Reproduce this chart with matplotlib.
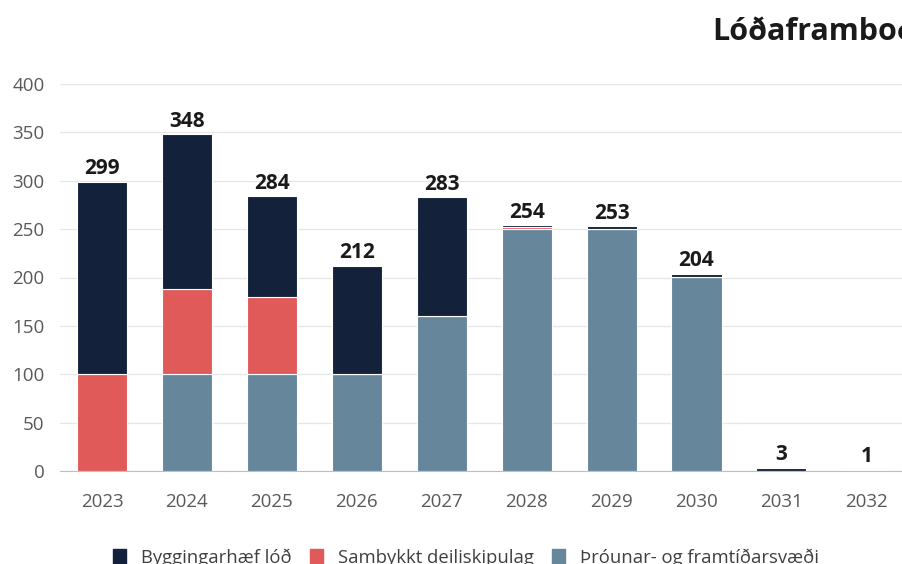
import matplotlib
matplotlib.use("Agg")
import matplotlib.pyplot as plt
from matplotlib.patches import Patch

years = ["2023", "2024", "2025", "2026", "2027", "2028", "2029", "2030", "2031", "2032"]
throun = [0, 100, 100, 100, 160, 250, 250, 201, 0, 0]
samthykkt = [100, 88, 80, 0, 0, 2, 0, 0, 0, 0]
bygg = [199, 160, 104, 112, 123, 2, 3, 3, 3, 1]
totals = [299, 348, 284, 212, 283, 254, 253, 204, 3, 1]

series_labels = ["Byggingarhæf lóð", "Sambykkt deiliskipulag", "Þróunar- og framtíðarsvæði"]
c_dark = "#13213b"
c_red = "#e05a5a"
c_gray = "#66879b"

plt.rcParams['font.family'] = ['Open Sans', 'DejaVu Sans']

fig = plt.figure(figsize=(9.02, 5.64), dpi=100)
ax = fig.add_axes([60/902, 93/564, 1 - 60/902, (471-84)/564])

x = list(range(len(years)))
w = 0.59
ax.bar(x, throun, w, color=c_gray, edgecolor="white", linewidth=0.8, zorder=3)
b2 = [t for t in throun]
ax.bar(x, samthykkt, w, bottom=b2, color=c_red, edgecolor="white", linewidth=0.8, zorder=3)
b3 = [t + s for t, s in zip(throun, samthykkt)]
ax.bar(x, bygg, w, bottom=b3, color=c_dark, edgecolor="white", linewidth=0.8, zorder=3)

for xi, t in zip(x, totals):
    ax.annotate(str(t), (xi, t), xytext=(0, 5.5), textcoords="offset points",
                ha="center", va="baseline", fontsize=15, fontweight="bold",
                color="#1a1a1a", clip_on=False)

ax.set_xlim(-0.495, 9.42)
ax.set_ylim(0, 400)
ax.set_yticks(range(0, 401, 50))
ax.set_xticks(x)
ax.set_xticklabels(years)
ax.tick_params(axis="both", length=0, labelsize=13.5, colors="#595959")
ax.tick_params(axis="x", pad=16)
ax.tick_params(axis="y", pad=11)
ax.grid(axis="y", color="#e6e6e6", linewidth=0.9, zorder=0)
for s in ["top", "right", "left"]:
    ax.spines[s].set_visible(False)
ax.spines["bottom"].set_color("#bfbfbf")
ax.spines["bottom"].set_zorder(4)

fig.text(712/902, 1 - 40/564, "Lóðaframboð", fontsize=22, fontweight="bold",
         color="#1a1a1a", ha="left", va="baseline")

handles = [Patch(color=c_dark), Patch(color=c_red), Patch(color=c_gray)]
fig.legend(handles, series_labels, loc="center", bbox_to_anchor=(466/902, 1 - 558/564),
           ncol=3, frameon=False, fontsize=13.3, labelcolor="#404040",
           handlelength=0.7, handleheight=0.9, handletextpad=0.8, columnspacing=1.0,
           borderpad=0, borderaxespad=0)

fig.savefig("out.png", dpi=100)
